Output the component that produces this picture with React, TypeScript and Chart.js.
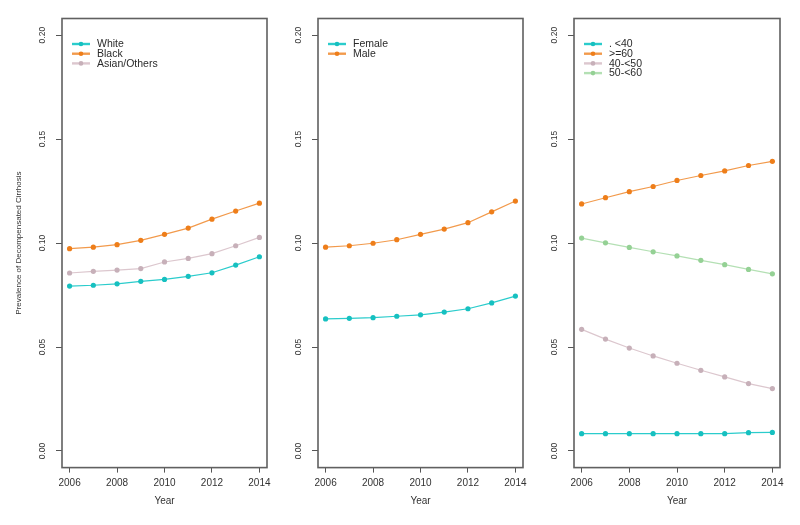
import React, { useEffect, useRef } from "react";
import { Chart, registerables } from "chart.js";

Chart.register(...registerables);
Chart.defaults.font.family = "'Liberation Sans', Arial, sans-serif";

const years = [2006, 2007, 2008, 2009, 2010, 2011, 2012, 2013, 2014];
const xTickValues = [2006, 2008, 2010, 2012, 2014];
const yTickValues = [0, 0.05, 0.1, 0.15, 0.2];
const yAxisTitle = "Prevalence of Decompensated Cirrhosis";
const xAxisTitle = "Year";

const raceLabels = ["White", "Black", "Asian/Others"];
const raceWhite = [0.0793, 0.0797, 0.0804, 0.0816, 0.0825, 0.084, 0.0857, 0.0894, 0.0934];
const raceBlack = [0.0973, 0.098, 0.0992, 0.1013, 0.1042, 0.1072, 0.1115, 0.1154, 0.1192];
const raceAsian = [0.0856, 0.0864, 0.087, 0.0877, 0.0909, 0.0926, 0.0949, 0.0987, 0.1027];

const sexLabels = ["Female", "Male"];
const sexFemale = [0.0635, 0.0638, 0.0641, 0.0648, 0.0655, 0.0668, 0.0684, 0.0712, 0.0745];
const sexMale = [0.098, 0.0987, 0.0999, 0.1016, 0.1042, 0.1067, 0.1098, 0.115, 0.1202];

const ageLabels = [". <40", ">=60", "40-<50", "50-<60"];
const ageUnder40 = [0.0083, 0.0083, 0.0083, 0.0083, 0.0083, 0.0083, 0.0083, 0.0088, 0.0089];
const age60plus = [0.1188, 0.1218, 0.1247, 0.1272, 0.1301, 0.1325, 0.1347, 0.1373, 0.1393];
const age40to50 = [0.0585, 0.0538, 0.0495, 0.0457, 0.0422, 0.0388, 0.0356, 0.0324, 0.03];
const age50to60 = [0.1024, 0.1001, 0.0979, 0.0958, 0.0938, 0.0917, 0.0896, 0.0873, 0.0852];

const CYAN = { line: "#2bcccc", point: "#16c0c0" };
const ORANGE = { line: "#f29a4c", point: "#ee7e1a" };
const MAUVE = { line: "#dcc7ce", point: "#c7b0b9" };
const GREEN = { line: "#b4e0b4", point: "#95d195" };

type Series = { label: string; values: number[]; line: string; point: string };

const W = 800;
const H = 525;
const PLOT_TOP = 18.5;
const PLOT_BOTTOM = 467.6;
const X_AXIS_H = 41;

const framePlugin = {
  id: "frame",
  afterDraw(chart: any) {
    const { ctx, chartArea: a } = chart;
    ctx.save();
    ctx.strokeStyle = "#606060";
    ctx.lineWidth = 1.6;
    ctx.strokeRect(a.left, a.top, a.right - a.left, a.bottom - a.top);
    ctx.restore();
  },
};

const insetLegendPlugin = {
  id: "insetLegend",
  afterDraw(chart: any) {
    const { ctx, chartArea: a } = chart;
    const ds = chart.data.datasets;
    ctx.save();
    ds.forEach((d: any, i: number) => {
      const y = a.top + 25.5 + i * 9.7;
      const x0 = a.left + 10;
      const x1 = a.left + 28;
      ctx.strokeStyle = d.borderColor;
      ctx.lineWidth = 2.4;
      ctx.beginPath();
      ctx.moveTo(x0, y);
      ctx.lineTo(x1, y);
      ctx.stroke();
      ctx.fillStyle = d.pointBackgroundColor;
      ctx.beginPath();
      ctx.arc((x0 + x1) / 2, y, 2.3, 0, Math.PI * 2);
      ctx.fill();
      ctx.fillStyle = "#2a2a2a";
      ctx.font = "10.5px 'Liberation Sans', Arial, sans-serif";
      ctx.textBaseline = "middle";
      ctx.textAlign = "left";
      ctx.fillText(d.label, a.left + 35, y + 0.5);
    });
    ctx.restore();
  },
};

function Panel(props: {
  series: Series[];
  left: number;
  right: number;
  showYTitle: boolean;
}) {
  const ref = useRef<HTMLCanvasElement>(null);
  useEffect(() => {
    const yAxisW = props.showYTitle ? props.left : 50;
    const chart = new Chart(ref.current as HTMLCanvasElement, {
      type: "line",
      data: {
        datasets: props.series.map((s) => ({
          label: s.label,
          data: s.values.map((v, i) => ({ x: years[i], y: v })),
          borderColor: s.line,
          backgroundColor: s.point,
          pointBackgroundColor: s.point,
          pointBorderWidth: 0,
          pointRadius: 2.6,
          borderWidth: 1.2,
          tension: 0,
          fill: false,
        })),
      },
      options: {
        responsive: false,
        animation: false,
        devicePixelRatio: 1,
        layout: {
          padding: {
            left: props.left - yAxisW,
            right: W - props.right,
            top: PLOT_TOP,
            bottom: H - PLOT_BOTTOM - X_AXIS_H,
          },
        },
        plugins: {
          legend: { display: false },
          tooltip: { enabled: false },
        },
        scales: {
          x: {
            type: "linear",
            min: 2005.68,
            max: 2014.32,
            afterBuildTicks: (s: any) => {
              s.ticks = xTickValues.map((v) => ({ value: v }));
            },
            afterFit: (s: any) => {
              s.height = X_AXIS_H;
            },
            border: { display: false },
            grid: {
              display: true,
              drawOnChartArea: false,
              drawTicks: true,
              tickLength: 5,
              color: "#555",
              lineWidth: 1,
            },
            ticks: {
              autoSkip: false,
              maxRotation: 0,
              minRotation: 0,
              padding: 4.5,
              color: "#333",
              font: { size: 10 },
              callback: (v: any) => String(v),
            },
            title: {
              display: true,
              text: xAxisTitle,
              color: "#333",
              font: { size: 10 },
              padding: { top: 0, bottom: 1 },
            },
          },
          y: {
            type: "linear",
            min: -0.008,
            max: 0.208,
            afterBuildTicks: (s: any) => {
              s.ticks = yTickValues.map((v) => ({ value: v }));
            },
            afterFit: (s: any) => {
              s.width = yAxisW;
            },
            border: { display: false },
            grid: {
              display: true,
              drawOnChartArea: false,
              drawTicks: true,
              tickLength: 6,
              color: "#555",
              lineWidth: 1,
            },
            ticks: {
              autoSkip: false,
              minRotation: 90,
              maxRotation: 90,
              crossAlign: "center",
              padding: 5.5,
              color: "#333",
              font: { size: 8.5 },
              callback: (v: any) => Number(v).toFixed(2),
            },
            title: {
              display: props.showYTitle,
              text: yAxisTitle,
              color: "#333",
              font: { size: 8 },
              padding: { top: 13.5, bottom: 0 },
            },
          },
        },
      },
      plugins: [framePlugin, insetLegendPlugin],
    } as any);
    return () => chart.destroy();
  }, []);
  return (
    <canvas
      ref={ref}
      width={W}
      height={H}
      style={{ position: "absolute", left: 0, top: 0, width: W, height: H }}
    />
  );
}

const raceSeries: Series[] = [
  { label: raceLabels[0], values: raceWhite, ...CYAN },
  { label: raceLabels[1], values: raceBlack, ...ORANGE },
  { label: raceLabels[2], values: raceAsian, ...MAUVE },
];
const sexSeries: Series[] = [
  { label: sexLabels[0], values: sexFemale, ...CYAN },
  { label: sexLabels[1], values: sexMale, ...ORANGE },
];
const ageSeries: Series[] = [
  { label: ageLabels[0], values: ageUnder40, ...CYAN },
  { label: ageLabels[1], values: age60plus, ...ORANGE },
  { label: ageLabels[2], values: age40to50, ...MAUVE },
  { label: ageLabels[3], values: age50to60, ...GREEN },
];

export default function App() {
  return (
    <div
      style={{
        position: "fixed",
        left: 0,
        top: 0,
        width: W,
        height: H,
        background: "#fff",
        overflow: "hidden",
      }}
    >
      <Panel series={raceSeries} left={62} right={267} showYTitle={true} />
      <Panel series={sexSeries} left={318} right={523} showYTitle={false} />
      <Panel series={ageSeries} left={574} right={780} showYTitle={false} />
    </div>
  );
}
